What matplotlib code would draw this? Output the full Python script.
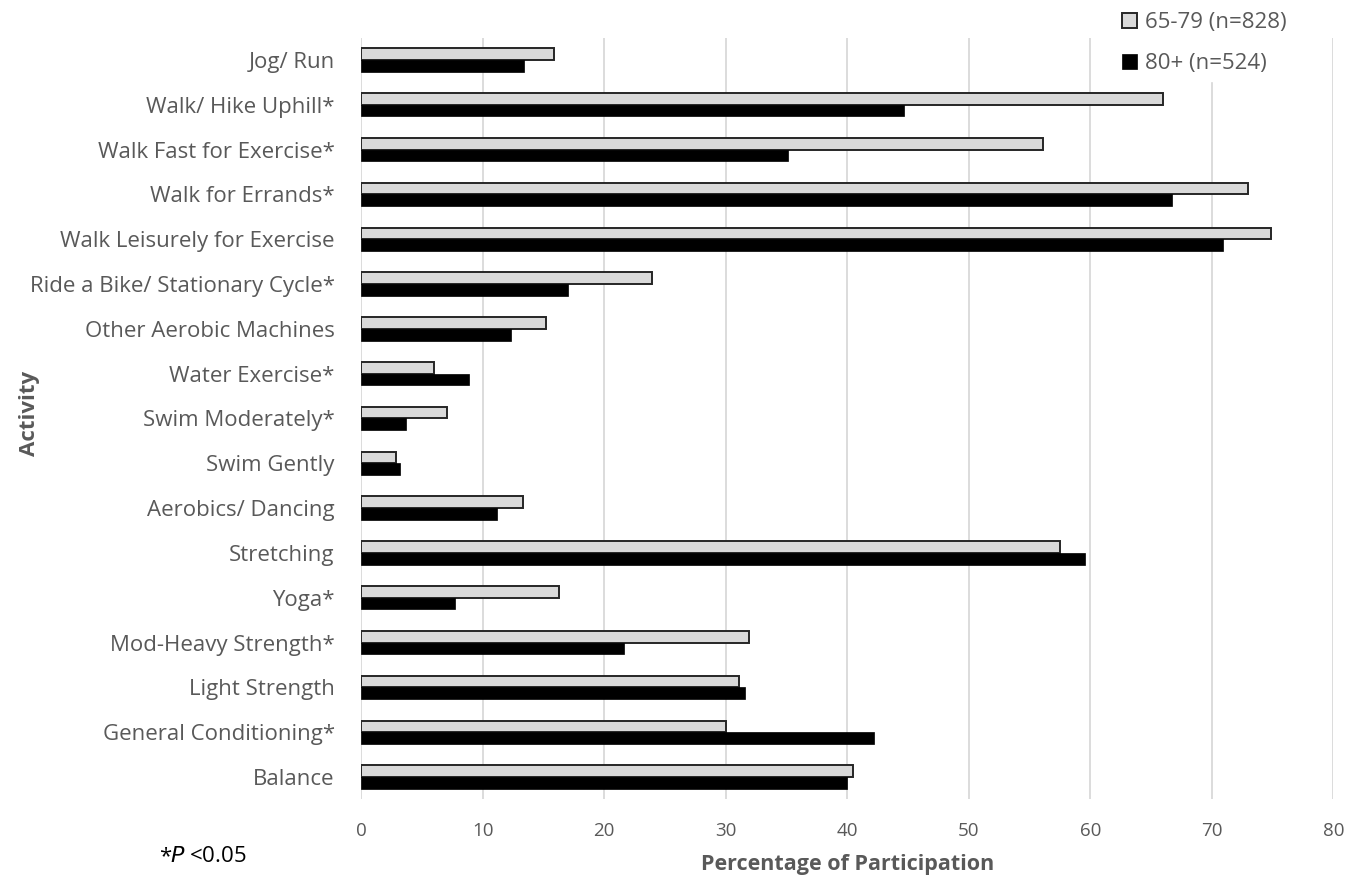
import numpy as np
import matplotlib
matplotlib.use('Agg')
import matplotlib.pyplot as plt

plt.rcParams['font.family'] = ['Open Sans', 'DejaVu Sans']

# data
activities = ['Jog/ Run', 'Walk/ Hike Uphill*', 'Walk Fast for Exercise*', 'Walk for Errands*',
              'Walk Leisurely for Exercise', 'Ride a Bike/ Stationary Cycle*', 'Other Aerobic Machines',
              'Water Exercise*', 'Swim Moderately*', 'Swim Gently', 'Aerobics/ Dancing', 'Stretching',
              'Yoga*', 'Mod-Heavy Strength*', 'Light Strength', 'General Conditioning*', 'Balance']
age_65_79 = [15.9, 66.0, 56.1, 73.0, 74.9, 23.9, 15.2, 6.0, 7.1, 2.9, 13.3, 57.5,
             16.3, 31.9, 31.1, 30.0, 40.5]
age_80p = [13.4, 44.7, 35.1, 66.7, 70.9, 17.0, 12.3, 8.9, 3.7, 3.2, 11.2, 59.6,
           7.7, 21.6, 31.6, 42.2, 40.0]
xticks = [0, 10, 20, 30, 40, 50, 60, 70, 80]

txt = '#595959'

fig = plt.figure(figsize=(13.63, 8.8), dpi=100, facecolor='white')
ax = fig.add_axes([0.2649, 0.0916, 0.9782 - 0.2649, 0.9573 - 0.0916])

y = np.arange(len(activities))
h = 0.26
ax.barh(y - h / 2, age_65_79, height=h, color='#D9D9D9', edgecolor='#262626',
        linewidth=1.4, label='65-79 (n=828)', zorder=3)
ax.barh(y + h / 2, age_80p, height=h, color='black', edgecolor='black',
        linewidth=0.5, label='80+ (n=524)', zorder=3)

ax.set_ylim(len(activities) - 0.5, -0.5)
ax.set_xlim(0, 80)
ax.set_xticks(xticks)
ax.set_yticks(y)
ax.set_yticklabels(activities, fontsize=16, color=txt)
ax.tick_params(axis='x', labelsize=13.5, colors=txt, length=0, pad=16)
ax.tick_params(axis='y', length=0, pad=19)
ax.xaxis.grid(True, color='#D9D9D9', linewidth=1.3, zorder=0)
ax.set_axisbelow(True)
for s in ax.spines.values():
    s.set_visible(False)

ax.set_xlabel('Percentage of Participation', fontsize=15.5, fontweight='bold', color=txt, labelpad=10)
fig.text(0.022, 0.53, 'Activity', rotation=90, fontsize=16, fontweight='bold', color=txt,
         ha='center', va='center')
fig.text(0.117, 0.02, '*', fontsize=16, color='black', ha='left', va='baseline')
fig.text(0.1245, 0.02, r'$\mathit{P}$ <0.05', fontsize=16, color='black', ha='left', va='baseline')

leg = fig.legend(loc='upper left', bbox_to_anchor=(0.81, 1.006), frameon=True, fontsize=16,
                 handlelength=0.7, handleheight=0.7, handletextpad=0.35, labelspacing=0.9,
                 borderpad=0.3)
leg.get_frame().set_edgecolor('white')
leg.get_frame().set_facecolor('white')
leg.get_frame().set_alpha(1)
for t in leg.get_texts():
    t.set_color(txt)

fig.savefig('out.png', dpi=100, facecolor='white')
